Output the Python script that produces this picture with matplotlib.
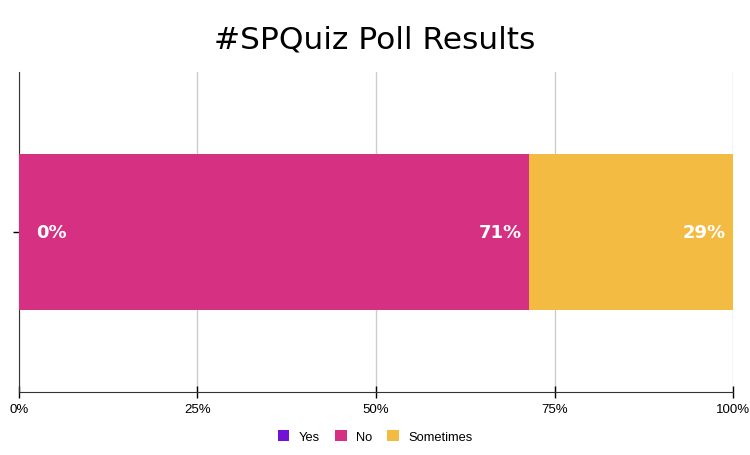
import matplotlib
matplotlib.use("Agg")
import matplotlib.pyplot as plt
from matplotlib.patches import Patch

# poll data (shares in percent)
categories = ["Yes", "No", "Sometimes"]
values = [0, 71.4, 28.6]
colors = ["#7112D6", "#D63083", "#F4BB42"]
xticks = [0, 25, 50, 75, 100]
xtick_labels = ["0%", "25%", "50%", "75%", "100%"]

fig = plt.figure(figsize=(7.5, 4.56), dpi=100)
ax = fig.add_axes([0.0253, 0.138, 0.9521, 0.702])

left = 0
for name, val, col in zip(categories, values, colors):
    ax.barh(0, val, left=left, height=0.485, color=col, zorder=3)
    label = f"{round(val)}%"
    if val == 0:
        ax.annotate(label, (left, 0), xytext=(12.5, 0), textcoords="offset points",
                    ha="left", va="center", color="white", fontsize=13,
                    fontweight="bold", family="DejaVu Sans", zorder=4)
    else:
        ax.annotate(label, (left + val, 0), xytext=(-5, 0), textcoords="offset points",
                    ha="right", va="center", color="white", fontsize=13,
                    fontweight="bold", family="DejaVu Sans", zorder=4)
    left += val

ax.set_xlim(0, 100)
ax.set_ylim(-0.5, 0.5)
ax.set_xticks(xticks)
ax.set_xticklabels(xtick_labels, family="Liberation Sans", fontsize=9.5)
ax.set_yticks([0])
ax.set_yticklabels([""])
ax.tick_params(axis="x", direction="inout", length=8, width=1, pad=4)
ax.tick_params(axis="y", direction="inout", length=9, width=1)
ax.grid(axis="x", color="#cccccc", linewidth=1, zorder=0)
for s in ["top", "right"]:
    ax.spines[s].set_visible(False)
for s in ["left", "bottom"]:
    ax.spines[s].set_color("#333333")

fig.suptitle("#SPQuiz Poll Results", fontsize=22.5, family="DejaVu Sans", y=0.945)

handles = [Patch(facecolor=c, label=n) for n, c in zip(categories, colors)]
fig.legend(handles=handles, loc="center", bbox_to_anchor=(0.5, 0.04), ncol=3,
           frameon=False, prop={"family": "Liberation Sans", "size": 9.3},
           handlelength=0.9, handleheight=0.9, columnspacing=1.2, handletextpad=0.7)

fig.savefig("out.png", dpi=100)
